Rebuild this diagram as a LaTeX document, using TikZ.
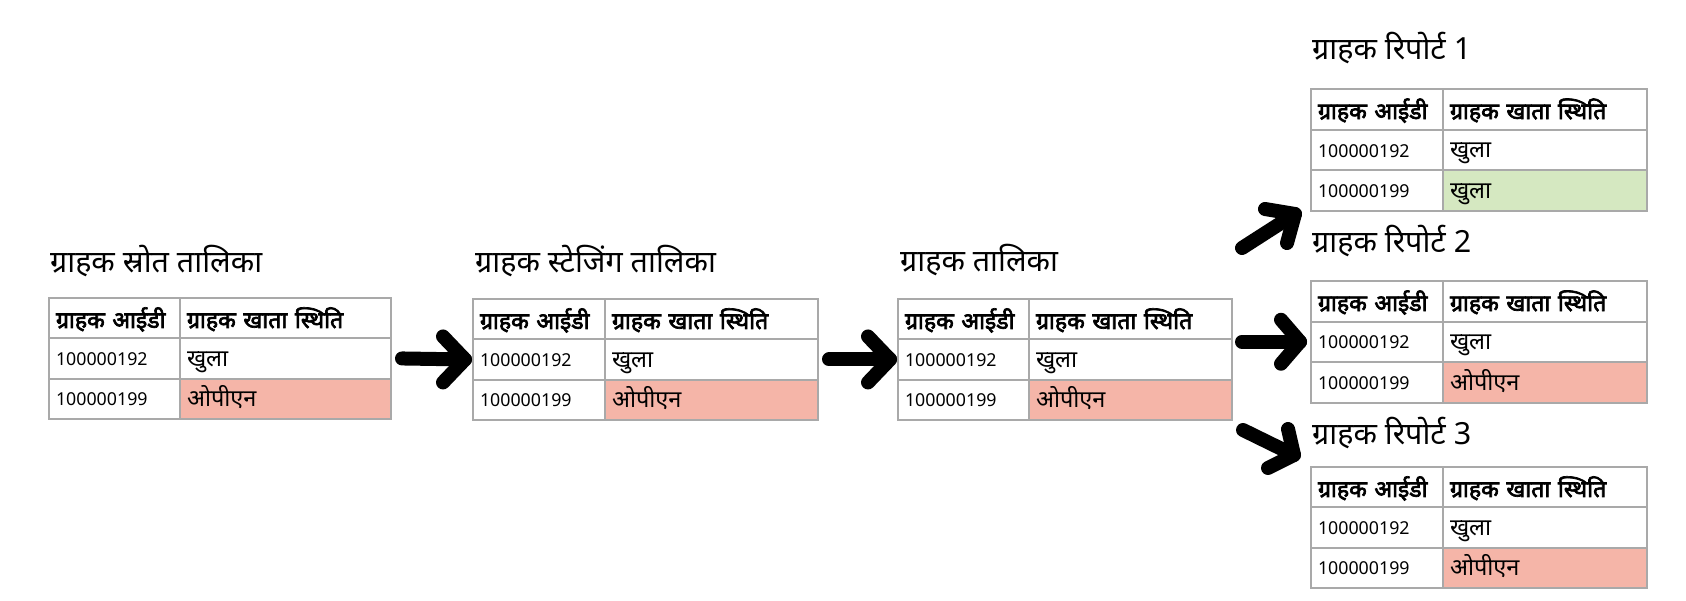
\documentclass[tikz,border=0pt]{standalone}
\usepackage{fontspec}
\setmainfont{Noto Sans}[Script=Devanagari]
\newfontfamily\hdrfont{Noto Sans}[Script=Devanagari, FakeBold=3]
\usetikzlibrary{calc}
\definecolor{bordergray}{HTML}{A9A9A9}
\definecolor{pinkfill}{HTML}{F5B5A8}
\definecolor{greenfill}{HTML}{D5E8C1}
\tikzset{
  cell/.style={draw=bordergray, line width=2pt, inner xsep=7pt, inner ysep=0pt,
    outer sep=0pt, anchor=north west, align=left, fill=white},
  hdr/.style={font=\hdrfont\fontsize{23}{26}\selectfont, text height=19.5pt, text depth=0pt},
  num/.style={font=\fontsize{17.8}{20}\selectfont, text height=14pt, text depth=0pt},
  val/.style={font=\fontsize{23.5}{26}\selectfont, text height=15.5pt, text depth=0pt},
  ttl/.style={font=\fontsize{30.5}{34}\selectfont, anchor=base west, inner sep=0pt},
  bigarrow/.style={line width=14pt, line cap=round, line join=round, draw=black},
}
\newcommand{\datatable}[8]{%
  \pgfmathsetmacro\twA{#4-14}\pgfmathsetmacro\twB{#5-14}%
  \node[cell, hdr, text width=\twA pt, minimum height=#6pt] (#1h1) at (#2,#3) {ग्राहक आईडी};
  \node[cell, hdr, text width=\twB pt, minimum height=#6pt] (#1h2) at (#1h1.north east) {ग्राहक खाता स्थिति};
  \node[cell, num, text width=\twA pt, minimum height=#6pt] (#1a1) at (#1h1.south west) {100000192};
  \node[cell, val, text width=\twB pt, minimum height=#6pt] (#1a2) at (#1a1.north east) {खुला};
  \node[cell, num, text width=\twA pt, minimum height=#6pt] (#1b1) at (#1a1.south west) {100000199};
  \node[cell, val, fill=#7, text width=\twB pt, minimum height=#6pt] (#1b2) at (#1b1.north east) {#8};
}
\begin{document}
\begin{tikzpicture}[x=1pt, y=-1pt]
\useasboundingbox[fill=white] (0,0) rectangle (1686,600);

% titles
\node[ttl] (T1) at (50,272) {ग्राहक स्रोत तालिका};
\node[ttl] (T2) at (475,272) {ग्राहक स्टेजिंग तालिका};
\node[ttl] (T3) at (900,271) {ग्राहक तालिका};
\node[ttl] (R1) at (1312,59) {ग्राहक रिपोर्ट 1};
\node[ttl] (R2) at (1312,252) {ग्राहक रिपोर्ट 2};
\node[ttl] (R3) at (1312,444) {ग्राहक रिपोर्ट 3};

% tables
\datatable{t1}{49}{298}{131}{211}{40.3}{pinkfill}{ओपीएन}
\datatable{t2}{473}{299}{132}{213}{40.3}{pinkfill}{ओपीएन}
\datatable{t3}{898}{299}{131}{203}{40.3}{pinkfill}{ओपीएन}
\datatable{r1}{1311}{89}{132}{204}{40.7}{greenfill}{खुला}
\datatable{r2}{1311}{281}{132}{204}{40.5}{pinkfill}{ओपीएन}
\datatable{r3}{1311}{467}{132}{204}{40.3}{pinkfill}{ओपीएन}

% horizontal arrows
\coordinate (a1s) at ([xshift=11pt]t1a2.east);
\coordinate (a1e) at ([xshift=-8pt]t2a1.west);
\draw[bigarrow] (a1s) -- (a1e);
\draw[bigarrow] ($(a1e)+(-22,-23)$) -- (a1e) -- ($(a1e)+(-22,23)$);

\coordinate (a2s) at ([xshift=11pt]t2a2.east);
\coordinate (a2e) at ([xshift=-8pt]t3a1.west);
\draw[bigarrow] (a2s) -- (a2e);
\draw[bigarrow] ($(a2e)+(-22,-23)$) -- (a2e) -- ($(a2e)+(-22,23)$);

\coordinate (a4s) at ([xshift=10pt]t3a2.east |- r2a1.west);
\coordinate (a4e) at ([xshift=-11pt]r2a1.west);
\draw[bigarrow] (a4s) -- (a4e);
\draw[bigarrow] ($(a4e)+(-19,-22)$) -- (a4e) -- ($(a4e)+(-19,22)$);

% diagonal arrows
\coordinate (a3s) at (1242,248);
\coordinate (a3e) at (1295,214);
\draw[bigarrow] (a3s) -- (a3e);
\draw[bigarrow] (1265,209) -- (a3e) -- (1287,243);

\coordinate (a5s) at (1243,430);
\coordinate (a5e) at (1294,455);
\draw[bigarrow] (a5s) -- (a5e);
\draw[bigarrow] (1288,429) -- (a5e) -- (1268,468);
\end{tikzpicture}
\end{document}
